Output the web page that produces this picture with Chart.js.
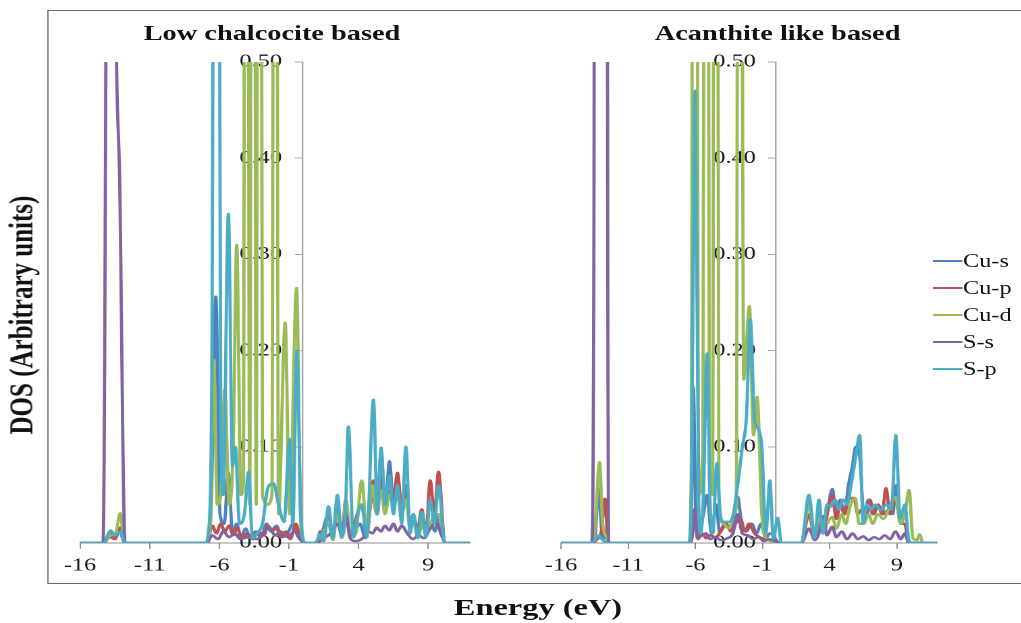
<!DOCTYPE html>
<html>
<head>
<meta charset="utf-8">
<script src="https://cdn.jsdelivr.net/npm/chart.js@4.4.1/dist/chart.umd.min.js"></script>
<style>
  html, body { margin: 0; padding: 0; background: #fff; width: 1021px; height: 623px; overflow: hidden; }
  /* whole figure is laid out narrow and stretched horizontally */
  #stage { position: absolute; left: 0; top: 0; width: 756.3px; height: 623px;
           transform: scaleX(1.35); transform-origin: 0 0;
           font-family: "Liberation Serif", "Times New Roman", serif; color: #111; }
  .frame { position: absolute; left: 35.3px; top: 9.5px; width: 760px; height: 574px;
           border: 1.5px solid #6b6b6b; box-sizing: border-box; }
  canvas { position: absolute; top: 0; }
  .ptitle { position: absolute; top: 23.4px; width: 320px; text-align: center; font-weight: bold;
            font-size: 21px; line-height: 21px; white-space: nowrap; }
  .xtitle { position: absolute; left: 248.5px; top: 594.9px; width: 300px; text-align: center;
            font-weight: bold; font-size: 24px; line-height: 24px; white-space: nowrap; }
  .ytitle { position: absolute; left: -133.7px; top: 299.5px; width: 300px; height: 30px; line-height: 30px;
            text-align: center; font-weight: bold; font-size: 25px; white-space: nowrap;
            transform: rotate(-90deg); transform-origin: 50% 50%; }
  .lrow { position: absolute; left: 691.1px; height: 18px; font-size: 18px; line-height: 18px; white-space: nowrap; }
  .lrow .sw { position: absolute; left: 0; top: 8.1px; width: 21.5px; height: 2px; }
  .lrow .tx { position: absolute; left: 22.2px; top: 0; }
</style>
</head>
<body>
<div id="stage">
  <div class="frame"></div>
  <canvas id="lc" width="380" height="623" style="left:0;width:380px;height:623px"></canvas>
  <canvas id="ac" width="376" height="623" style="left:380px;width:376px;height:623px"></canvas>
  <div class="ptitle" style="left:41.5px">Low chalcocite based</div>
  <div class="ptitle" style="left:416px">Acanthite like based</div>
  <div class="xtitle">Energy (eV)</div>
  <div class="ytitle">DOS (Arbitrary units)</div>
  <div id="legend"></div>
</div>
<script>
// Projected densities of states, [energy (eV), DOS] pairs
const seriesNames  = ['Cu-s', 'Cu-p', 'Cu-d', 'S-s', 'S-p'];
const seriesColors = ['#4F81BD', '#C0504D', '#9BBB59', '#8064A2', '#4BACC6'];
const xTicks = [-16, -11, -6, -1, 4, 9];
const yTicks = [0, 0.1, 0.2, 0.3, 0.4, 0.5];

// Low chalcocite based
const lcCuS = [[-16,0],[-14.3,0],[-13.85,0.011],[-13.55,0.005],[-13.15,0.012],[-12.8,0],[-6.9,0],[-6.6,0.03],[-6.25,0.256],[-5.95,0.03],[-5.65,0.02],[-5.35,0.073],[-5.05,0.01],[-4.75,0.02],[-4.45,0.006],[-4.1,0.015],[-3.8,0.005],[-3.4,0.012],[-3.0,0.006],[-2.6,0.02],[-2.3,0.012],[-1.9,0.018],[-1.5,0.006],[-1.1,0.01],[-0.7,0.02],[-0.4,0.008],[0.2,0],[1.0,0],[1.3,0.006],[1.84,0.03],[2.15,0.004],[2.48,0.04],[2.8,0.006],[3.1,0.03],[3.4,0.008],[3.7,0.01],[4.1,0.02],[4.5,0.005],[5.0,0.05],[5.3,0.03],[5.62,0.095],[5.91,0.035],[6.22,0.085],[6.5,0.04],[6.8,0.05],[7.1,0.03],[7.4,0.06],[7.7,0.02],[8.0,0.025],[8.3,0.01],[8.6,0.02],[8.9,0.008],[9.2,0.02],[9.5,0.012],[9.75,0.03],[10.2,0],[12,0]];
const lcCuP = [[-16,0],[-14.3,0],[-13.85,0.006],[-13.5,0.004],[-13.1,0.016],[-12.8,0],[-6.9,0],[-6.5,0.018],[-6.2,0.01],[-5.9,0.02],[-5.6,0.012],[-5.3,0.018],[-5.0,0.008],[-4.7,0.016],[-4.4,0.005],[-4.0,0.01],[-3.6,0.004],[-3.2,0.012],[-2.8,0.008],[-2.5,0.018],[-2.2,0.012],[-1.9,0.016],[-1.6,0.006],[-1.2,0.012],[-0.9,0.004],[-0.5,0.02],[-0.2,0.006],[0.2,0],[1.0,0],[1.24,0.012],[1.5,0.002],[1.84,0.035],[2.15,0.004],[2.48,0.045],[2.8,0.006],[3.08,0.045],[3.4,0.008],[3.7,0.02],[4.2,0.04],[4.6,0.01],[5.07,0.065],[5.35,0.03],[5.62,0.07],[5.91,0.035],[6.22,0.06],[6.5,0.045],[6.8,0.073],[7.1,0.035],[7.4,0.05],[7.7,0.02],[7.94,0.03],[8.2,0.01],[8.54,0.035],[8.85,0.01],[9.14,0.065],[9.45,0.03],[9.74,0.074],[10.2,0],[12,0]];
const lcCuD = [[-16,0],[-14.3,0],[-13.8,0.008],[-13.45,0.01],[-13.12,0.031],[-12.8,0],[-6.9,0],[-6.65,0.02],[-6.4,0.19],[-6.15,0.04],[-5.9,0.05],[-5.6,0.16],[-5.3,0.04],[-5.0,0.1],[-4.75,0.31],[-4.45,0.05],[-4.27,0.06],[-4.07,2.0],[-3.82,0.04],[-3.57,2.0],[-3.35,0.04],[-3.14,2.0],[-2.9,0.05],[-2.55,0.04],[-2.22,0.05],[-1.99,2.0],[-1.75,0.03],[-1.27,0.229],[-0.95,0.03],[-0.45,0.265],[-0.15,0.02],[0.2,0],[1.0,0],[1.3,0.004],[1.84,0.02],[2.15,0.003],[2.48,0.03],[2.8,0.005],[3.1,0.045],[3.4,0.006],[3.8,0.01],[4.23,0.065],[4.6,0.01],[5.0,0.06],[5.3,0.03],[5.62,0.055],[5.9,0.03],[6.22,0.05],[6.5,0.04],[6.8,0.05],[7.1,0.03],[7.4,0.045],[7.7,0.015],[8.0,0.02],[8.3,0.008],[8.6,0.02],[9.0,0.015],[9.3,0.025],[9.74,0.03],[10.2,0],[12,0]];
const lcSS  = [[-16,0],[-14.35,0],[-13.85,1.4],[-13.4,0.52],[-13.16,0.38],[-12.77,0],[-6.9,0],[-6.5,0.008],[-6.1,0.004],[-5.7,0.012],[-5.3,0.006],[-4.9,0.01],[-4.5,0.004],[-3.9,0.006],[-3.3,0.004],[-2.8,0.012],[-2.4,0.016],[-2.0,0.008],[-1.6,0.012],[-1.1,0.006],[-0.6,0.012],[-0.2,0.004],[0.2,0],[1.0,0],[1.4,0.004],[2.0,0.01],[2.5,0.02],[2.8,0.008],[3.08,0.03],[3.4,0.005],[3.8,0.002],[4.3,0.005],[4.7,0.012],[5.0,0.01],[5.3,0.016],[5.6,0.012],[5.9,0.018],[6.2,0.013],[6.5,0.02],[6.8,0.012],[7.1,0.018],[7.5,0.01],[7.9,0.004],[8.3,0.008],[8.7,0.005],[9.1,0.014],[9.6,0.022],[9.9,0.01],[10.3,0],[12,0]];
const lcSP  = [[-16,0],[-14.3,0],[-13.8,0.013],[-13.5,0.008],[-13.1,0.012],[-12.8,0],[-6.95,0],[-6.8,0.01],[-6.55,0.15],[-6.22,1.6],[-5.9,0.15],[-5.72,0.05],[-5.35,0.342],[-5.05,0.08],[-4.85,0.1],[-4.55,0.02],[-4.2,0.03],[-3.9,0.074],[-3.62,0.005],[-3.3,0.01],[-2.9,0.02],[-2.5,0.058],[-2.1,0.062],[-1.75,0.04],[-1.35,0.022],[-0.95,0.108],[-0.72,0.02],[-0.42,0.2],[-0.15,0.03],[0.2,0],[0.8,0],[1.0,0.002],[1.24,0.01],[1.5,0.002],[1.84,0.038],[2.15,0.005],[2.48,0.05],[2.8,0.007],[3.05,0.03],[3.27,0.121],[3.63,0.006],[3.95,0.03],[4.23,0.04],[4.59,0.006],[5.07,0.149],[5.35,0.03],[5.62,0.099],[5.91,0.04],[6.22,0.07],[6.5,0.03],[6.8,0.06],[7.1,0.02],[7.4,0.1],[7.7,0.01],[7.94,0.03],[8.25,0.005],[8.54,0.032],[8.85,0.006],[9.14,0.045],[9.45,0.02],[9.74,0.06],[10.2,0],[12,0]];

// Acanthite like based
const acCuS = [[-16,0],[-13.75,0],[-13.45,0.01],[-13.21,0.057],[-12.95,0.01],[-12.6,0.004],[-12.45,0],[-6.45,0],[-6.3,0.03],[-6.15,0.162],[-5.95,0.02],[-5.7,0.01],[-5.4,0.03],[-5.13,0.05],[-4.8,0.01],[-4.45,0.04],[-4.2,0.012],[-3.8,0.02],[-3.4,0.015],[-3.1,0.025],[-2.85,0.048],[-2.55,0.02],[-2.2,0.012],[-1.8,0.02],[-1.45,0.01],[-1.1,0.02],[-0.75,0.005],[-0.45,0.01],[0.3,0],[1.9,0],[2.46,0.045],[2.9,0.004],[3.2,0.035],[3.5,0.01],[3.8,0.03],[4.2,0.056],[4.5,0.03],[4.8,0.045],[5.1,0.03],[5.4,0.06],[5.7,0.08],[5.95,0.1],[6.24,0.09],[6.55,0.03],[6.9,0.045],[7.2,0.03],[7.6,0.04],[8.0,0.03],[8.4,0.035],[8.7,0.03],[8.93,0.06],[9.3,0.02],[9.6,0.02],[9.9,0],[12,0]];
const acCuP = [[-16,0],[-13.75,0],[-13.3,0.004],[-13.0,0.012],[-12.72,0.046],[-12.5,0],[-6.45,0],[-6.25,0.01],[-6.0,0.031],[-5.8,0.004],[-5.5,0.01],[-5.2,0.005],[-4.9,0.008],[-4.5,0.006],[-4.1,0.012],[-3.7,0.02],[-3.35,0.012],[-3.0,0.02],[-2.65,0.026],[-2.3,0.012],[-2.0,0.02],[-1.6,0.01],[-1.2,0.006],[-0.8,0.004],[0.3,0],[1.9,0],[2.46,0.03],[2.9,0.004],[3.2,0.02],[3.55,0.015],[3.9,0.035],[4.2,0.05],[4.5,0.025],[4.8,0.04],[5.1,0.03],[5.4,0.045],[5.8,0.047],[6.1,0.03],[6.4,0.035],[6.7,0.025],[7.0,0.045],[7.3,0.03],[7.6,0.04],[7.9,0.03],[8.2,0.057],[8.5,0.03],[8.9,0.045],[9.3,0.02],[9.6,0.02],[9.9,0],[12,0]];
const acCuD = [[-16,0],[-13.75,0],[-13.45,0.02],[-13.14,0.084],[-12.9,0.02],[-12.6,0.006],[-12.45,0],[-6.5,0],[-6.3,0.08],[-6.05,2.5],[-5.75,0.05],[-5.45,0.1],[-5.2,2.0],[-4.95,0.06],[-4.72,0.05],[-4.5,2.0],[-4.25,0.05],[-3.9,0.02],[-3.5,0.015],[-3.1,0.03],[-2.95,0.04],[-2.72,2.0],[-2.4,0.17],[-1.97,0.246],[-1.67,0.112],[-1.4,0.152],[-1.05,0.03],[-0.7,0.005],[0.3,0],[1.9,0],[2.46,0.04],[2.9,0.004],[3.2,0.03],[3.5,0.01],[3.8,0.02],[4.2,0.027],[4.5,0.015],[4.9,0.03],[5.2,0.02],[5.5,0.037],[5.9,0.047],[6.2,0.02],[6.55,0.02],[6.9,0.03],[7.2,0.02],[7.6,0.03],[8.0,0.025],[8.4,0.035],[8.9,0.048],[9.3,0.02],[9.6,0.03],[9.92,0.055],[10.2,0.005],[10.5,0.003],[10.7,0.009],[10.95,0],[12,0]];
const acSS  = [[-16,0],[-13.72,0],[-13.55,0.35],[-13.45,1.5],[-13.05,2.2],[-12.62,1.5],[-12.53,0.35],[-12.45,0],[-6.4,0],[-6.2,0.01],[-6.05,0.035],[-5.85,0.005],[-5.5,0.008],[-5.2,0.01],[-4.9,0.004],[-4.5,0.006],[-4.1,0.003],[-3.6,0.005],[-3.2,0.01],[-2.85,0.03],[-2.5,0.01],[-2.1,0.008],[-1.7,0.004],[-1.3,0.006],[-0.9,0.002],[-0.5,0.004],[0.3,0],[1.9,0],[2.46,0.015],[2.9,0.003],[3.2,0.01],[3.55,0.028],[3.8,0.008],[4.2,0.017],[4.5,0.006],[4.9,0.012],[5.3,0.004],[5.7,0.01],[6.1,0.004],[6.5,0.007],[6.9,0.003],[7.3,0.006],[7.7,0.004],[8.1,0.008],[8.5,0.004],[8.9,0.012],[9.3,0.004],[9.6,0.01],[9.9,0],[12,0]];
const acSP  = [[-16,0],[-13.75,0],[-13.4,0.004],[-13.2,0.008],[-12.9,0.003],[-12.5,0],[-6.45,0],[-6.3,0.05],[-6.02,0.47],[-5.75,0.04],[-5.6,0.01],[-5.4,0.05],[-5.13,0.197],[-4.9,0.04],[-4.7,0.01],[-4.4,0.083],[-4.15,0.03],[-3.9,0.022],[-3.55,0.022],[-3.2,0.028],[-2.85,0.06],[-2.5,0.1],[-2.2,0.13],[-1.9,0.232],[-1.6,0.13],[-1.3,0.118],[-1.05,0.1],[-0.75,0.01],[-0.45,0.065],[-0.2,0.005],[0.14,0.026],[0.4,0],[1.9,0],[2.46,0.05],[2.9,0.005],[3.2,0.045],[3.5,0.01],[3.8,0.04],[4.1,0.038],[4.4,0.045],[4.7,0.035],[5.0,0.045],[5.3,0.04],[5.6,0.06],[5.95,0.09],[6.24,0.112],[6.5,0.02],[6.8,0.04],[7.1,0.035],[7.4,0.04],[7.8,0.034],[8.2,0.04],[8.6,0.035],[8.93,0.112],[9.25,0.025],[9.6,0.04],[9.9,0.003],[10.1,0],[12,0]];

const fontFamily = '"Liberation Serif", "Times New Roman", serif';
const yAxisAt = 0;        // energy where the DOS axis crosses
const yLabelsAt = -1.5;   // energy where the DOS tick labels end

function toPoints(pairs) {
  return pairs.map(p => ({ x: p[0], y: p[1] }));
}

function drawPanel(canvasId, seriesList, padding) {
  const datasets = seriesList.map((pairs, i) => ({
    label: seriesNames[i],
    data: toPoints(pairs),
    borderColor: seriesColors[i],
    backgroundColor: seriesColors[i],
    borderWidth: 2.4,
    pointRadius: 0,
    fill: false,
    cubicInterpolationMode: 'monotone',
    borderJoinStyle: 'round',
    borderCapStyle: 'round',
    order: seriesNames.length - i   // S-p ends up on top
  }));

  const yTickBuilder = s => { s.ticks = yTicks.map(v => ({ value: v })); };

  return new Chart(document.getElementById(canvasId), {
    type: 'line',
    data: { datasets },
    options: {
      responsive: false,
      animation: false,
      devicePixelRatio: 2,
      layout: { padding },
      elements: { line: { capBezierPoints: false } },
      plugins: { legend: { display: false }, tooltip: { enabled: false }, title: { display: false } },
      scales: {
        x: {
          type: 'linear', min: -16, max: 12,
          afterBuildTicks: s => { s.ticks = xTicks.map(v => ({ value: v })); },
          grid: { display: true, drawOnChartArea: false, drawTicks: true, tickLength: 6, color: '#8f8f8f', lineWidth: 1 },
          border: { display: true, color: '#8f8f8f', width: 1 },
          ticks: { font: { family: fontFamily, size: 18 }, color: '#1a1a1a', padding: 6,
                   maxRotation: 0, autoSkip: false, callback: v => String(v) }
        },
        // axis line and tick marks at E = 0
        y: {
          type: 'linear', position: { x: yAxisAt }, min: 0, max: 0.5,
          afterBuildTicks: yTickBuilder,
          grid: { display: true, drawOnChartArea: false, drawTicks: true, tickLength: 5, color: '#a8a8a8', lineWidth: 1 },
          border: { display: true, color: '#a8a8a8', width: 1.2 },
          ticks: { display: false }
        },
        // tick labels, right-aligned a little left of the axis
        yl: {
          type: 'linear', position: { x: yLabelsAt }, min: 0, max: 0.5, z: 1,
          afterBuildTicks: yTickBuilder,
          grid: { display: false },
          border: { display: false },
          ticks: { font: { family: fontFamily, size: 18 }, color: '#1a1a1a',
                   callback: v => Number(v).toFixed(2) }
        }
      }
    }
  });
}

drawPanel('lc', [lcCuS, lcCuP, lcCuD, lcSS, lcSP], { left: 59.3, right: 31.9, top: 62, bottom: 40.4 });
drawPanel('ac', [acCuS, acCuP, acCuD, acSS, acSP], { left: 35.6, right: 61.9, top: 62, bottom: 40.4 });

// legend
const legendRows = [261, 288, 315, 342, 369];
const legend = document.getElementById('legend');
seriesNames.forEach((name, i) => {
  const row = document.createElement('div');
  row.className = 'lrow';
  row.style.top = (legendRows[i] - 9.1) + 'px';
  const sw = document.createElement('span');
  sw.className = 'sw';
  sw.style.background = seriesColors[i];
  const tx = document.createElement('span');
  tx.className = 'tx';
  tx.textContent = name;
  row.appendChild(sw);
  row.appendChild(tx);
  legend.appendChild(row);
});
</script>
</body>
</html>
